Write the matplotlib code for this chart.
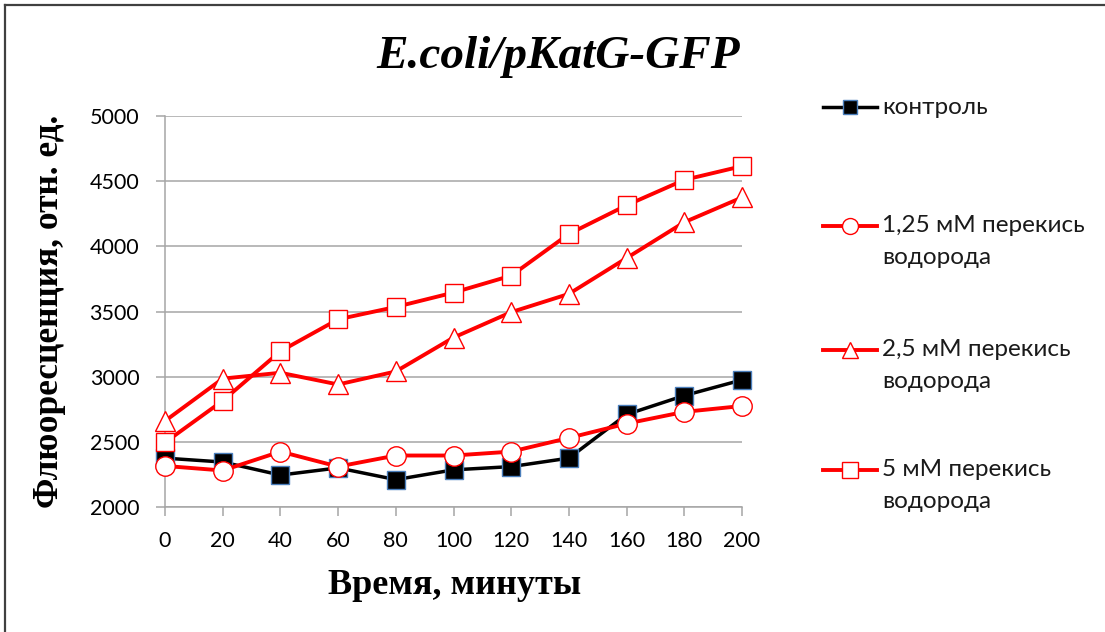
import matplotlib
matplotlib.use("Agg")
import matplotlib.pyplot as plt
from matplotlib.lines import Line2D

# --- donnees ---
time_min = [0, 20, 40, 60, 80, 100, 120, 140, 160, 180, 200]
control = [2375, 2345, 2245, 2300, 2210, 2285, 2310, 2375, 2710, 2855, 2975]
h2o2_125 = [2315, 2280, 2425, 2310, 2395, 2395, 2425, 2530, 2640, 2730, 2775]
h2o2_25 = [2660, 2985, 3030, 2940, 3040, 3300, 3495, 3635, 3910, 4185, 4375]
h2o2_5 = [2495, 2815, 3195, 3440, 3535, 3645, 3775, 4095, 4315, 4510, 4615]

labels = ["контроль", "1,25 мМ перекись\nводорода",
          "2,5 мМ перекись\nводорода", "5 мМ перекись\nводорода"]
y_ticks = [2000, 2500, 3000, 3500, 4000, 4500, 5000]

RED = "#FF0000"
GRID = "#A6A6A6"
SANS = ["Lato", "DejaVu Sans"]
SERIF = ["Liberation Serif", "DejaVu Serif"]

W, H = 1105, 632
fig = plt.figure(figsize=(W / 100, H / 100), dpi=100)
fig.patch.set_facecolor("white")

ax = fig.add_axes([165 / W, 1 - 507 / H, (742 - 165) / W, (507 - 116) / H])

styles = [
    dict(color="black", lw=2.5, marker="s", ms=13, mfc="black",
         mec="#4A7EBB", mew=1.0),
    dict(color=RED, lw=2.8, marker="o", ms=14, mfc="white", mec=RED, mew=1.0),
    dict(color=RED, lw=2.8, marker="^", ms=14, mfc="white", mec=RED, mew=1.0),
    dict(color=RED, lw=2.8, marker="s", ms=13.5, mfc="white", mec=RED, mew=1.0),
]
series = [control, h2o2_125, h2o2_25, h2o2_5]
for s, st in zip(series, styles):
    ax.plot(time_min, s, clip_on=False, zorder=3, **st)

ax.set_xlim(0, 200)
ax.set_ylim(2000, 5000)
ax.set_xticks(time_min)
ax.set_yticks(y_ticks)
ax.yaxis.grid(True, color=GRID, lw=1.1)
ax.set_axisbelow(True)
for side in ["top", "right"]:
    ax.spines[side].set_visible(False)
for side in ["left", "bottom"]:
    ax.spines[side].set_color(GRID)
    ax.spines[side].set_linewidth(1.1)
ax.tick_params(axis="both", direction="out", color=GRID, width=1.1,
               length=6.5, labelsize=15.5)
ax.tick_params(axis="y", pad=12)
ax.tick_params(axis="x", pad=11)
for lab in ax.get_xticklabels() + ax.get_yticklabels():
    lab.set_family(SANS)

# titres
fig.text(558 / W, 1 - 57 / H, "E.coli/pKatG-GFP", ha="center", va="center",
         fontsize=34, fontweight="bold", style="italic", family=SERIF)
fig.text(455 / W, 1 - 586 / H, "Время, минуты", ha="center", va="center",
         fontsize=26, fontweight="bold", family=SERIF)
fig.text(50 / W, 1 - 311 / H, "Флюоресценция, отн. ед.", ha="center",
         va="center", rotation=90, fontsize=25.5, fontweight="bold",
         family=SERIF)

# legende dessinee a la main (marqueur aligne sur la 1re ligne)
leg_y = [107, 226, 350, 470]
for st, lab, yy in zip(styles, labels, leg_y):
    yf = 1 - yy / H
    line = Line2D([823 / W, 877 / W], [yf, yf], transform=fig.transFigure,
                  color=st["color"], lw=st["lw"])
    mk = Line2D([850 / W], [yf], transform=fig.transFigure, ls="none",
                marker=st["marker"], ms=st["ms"] * 0.82, mfc=st["mfc"],
                mec=st["mec"], mew=st["mew"])
    fig.add_artist(line)
    fig.add_artist(mk)
    for i, part in enumerate(lab.split("\n")):
        fig.text(882 / W, 1 - (yy + 32 * i) / H, part, ha="left",
                 va="center", fontsize=17.5, family=SANS, color="#1A1A1A")

# cadre (haut et gauche seulement, image rognee)
fig.add_artist(Line2D([5 / W, 1], [1 - 5 / H, 1 - 5 / H],
                      transform=fig.transFigure, color="#404040", lw=1.6))
fig.add_artist(Line2D([5 / W, 5 / W], [0, 1 - 5 / H],
                      transform=fig.transFigure, color="#404040", lw=1.6))

fig.savefig("out.png", dpi=100)
